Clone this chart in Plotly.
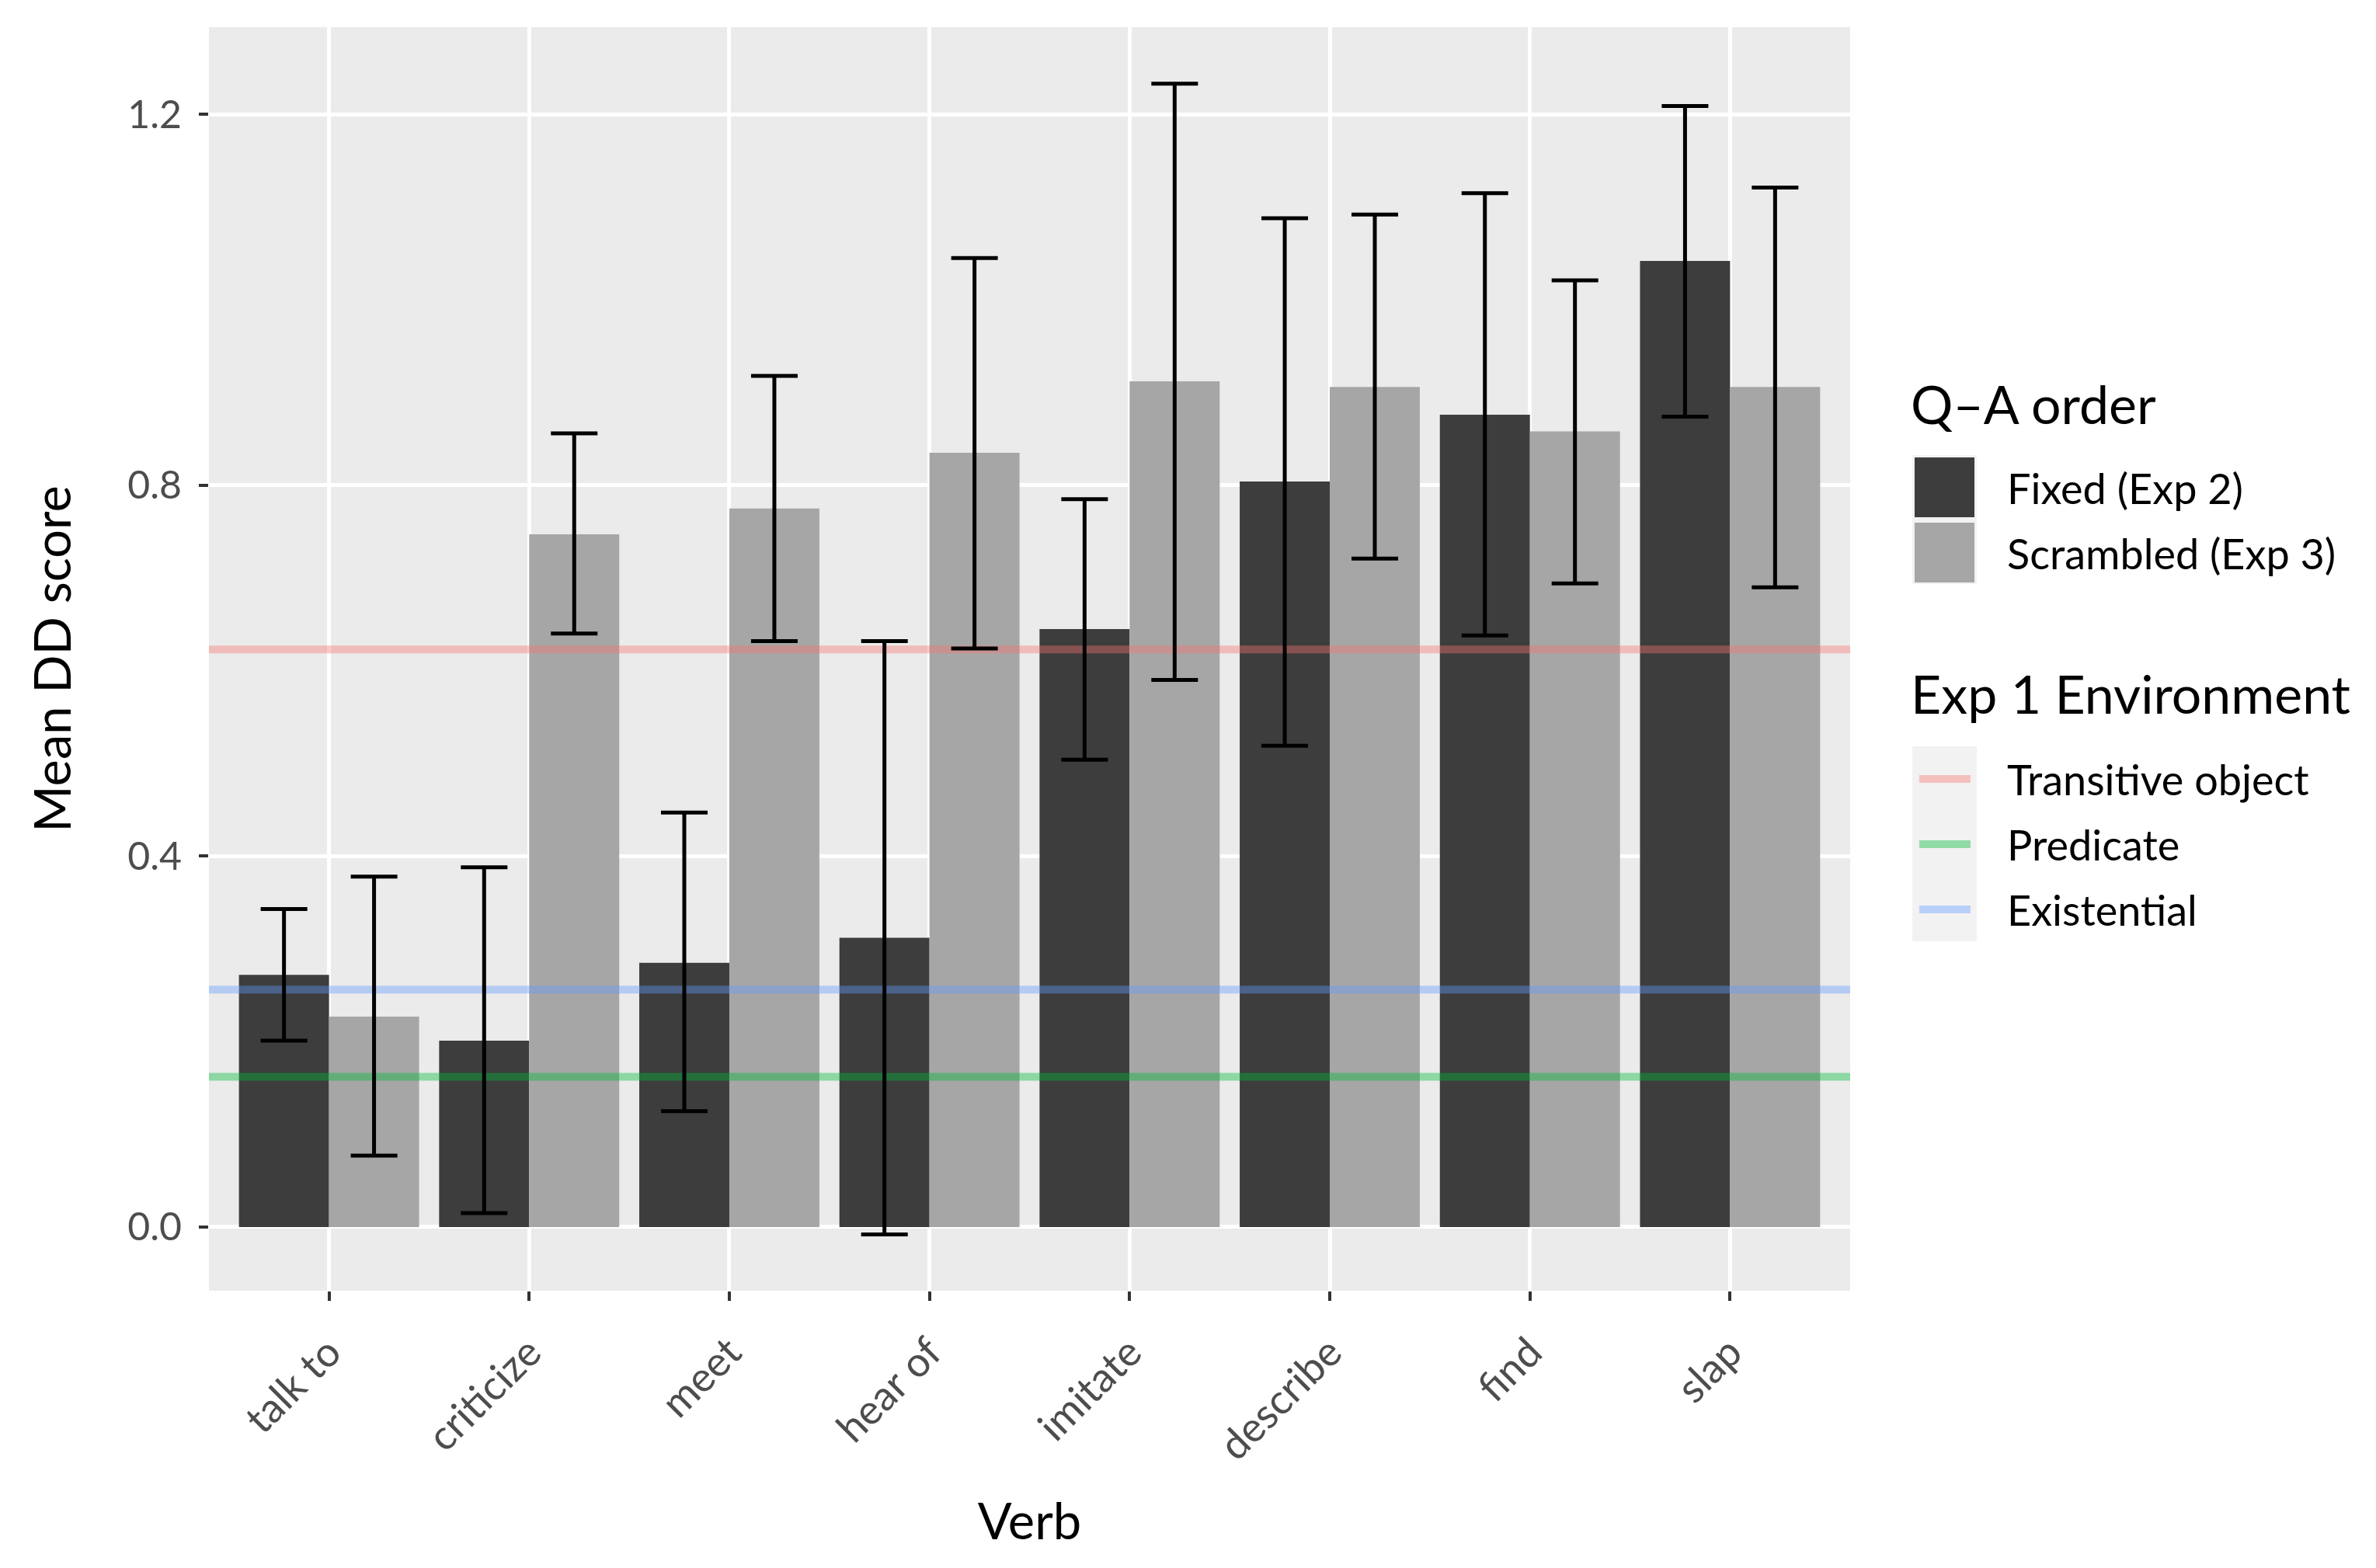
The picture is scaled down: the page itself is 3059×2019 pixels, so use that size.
import plotly.graph_objects as go

# ---------------- data ----------------
verbs = ["talk to", "criticize", "meet", "hear of", "imitate", "describe", "find", "slap"]

fixed_mean  = [0.272, 0.201, 0.285, 0.312, 0.645, 0.804, 0.876, 1.042]
fixed_upper = [0.343, 0.388, 0.447, 0.632, 0.785, 1.088, 1.115, 1.209]
fixed_lower = [0.201, 0.015, 0.125, -0.008, 0.504, 0.519, 0.638, 0.874]

scr_mean  = [0.227, 0.747, 0.775, 0.835, 0.912, 0.906, 0.858, 0.906]
scr_upper = [0.378, 0.856, 0.918, 1.045, 1.233, 1.092, 1.021, 1.121]
scr_lower = [0.077, 0.640, 0.632, 0.624, 0.590, 0.721, 0.694, 0.690]

env_names  = ["Transitive object", "Predicate", "Existential"]
env_values = [0.623, 0.162, 0.256]

y_ticks = [0.0, 0.4, 0.8, 1.2]
y_ticktext = ["0.0", "0.4", "0.8", "1.2"]

# ---------------- styling ----------------
OFF = 8                      # page body margin
W, H = 3059 - OFF, 2019 - OFF
L, T = 269 - OFF, 35 - OFF
R, B = 677, 357
PW, PH = W - L - R, H - T - B
FONT = "Lato"
C_FIXED = "#3D3D3D"
C_SCR = "#A6A6A6"
env_colors = ["rgba(248,118,109,0.4)", "rgba(0,186,56,0.4)", "rgba(97,156,255,0.4)"]
TICK_SIZE = 50
XTICK_SIZE = 53
TITLE_SIZE = 65
LEG_TITLE_SIZE = 68
LEG_SIZE = 54

idx = list(range(len(verbs)))
bargap = 0.1
bar_w = (1 - bargap) / 2
xr = [-0.6, len(verbs) - 1 + 0.6]

fig = go.Figure()

fig.add_trace(go.Bar(x=idx, y=fixed_mean, name="Fixed (Exp 2)",
                     marker=dict(color=C_FIXED, line=dict(width=0)), showlegend=False))
fig.add_trace(go.Bar(x=idx, y=scr_mean, name="Scrambled (Exp 3)",
                     marker=dict(color=C_SCR, line=dict(width=0)), showlegend=False))

for name, v, c in zip(env_names, env_values, env_colors):
    fig.add_trace(go.Scatter(x=xr, y=[v, v], mode="lines", name=name,
                             line=dict(color=c, width=10), showlegend=False,
                             hoverinfo="skip", cliponaxis=True))

def add_err(xs, mean, up, lo):
    fig.add_trace(go.Scatter(
        x=xs, y=mean, mode="markers",
        marker=dict(size=1, opacity=0), showlegend=False,
        error_y=dict(type="data", symmetric=False,
                     array=[u - m for u, m in zip(up, mean)],
                     arrayminus=[m - l for m, l in zip(mean, lo)],
                     color="black", thickness=5, width=30)))

add_err([i - bar_w / 2 for i in idx], fixed_mean, fixed_upper, fixed_lower)
add_err([i + bar_w / 2 for i in idx], scr_mean, scr_upper, scr_lower)

# ---------------- manual legends (page pixel coords) ----------------
def px(x):
    return (x - OFF - L) / PW

def py(y):
    return 1 - (y - OFF - T) / PH

shapes = []
annotations = []

def rect(x0, y0, x1, y1, color):
    shapes.append(dict(type="rect", xref="paper", yref="paper",
                       x0=px(x0), x1=px(x1), y0=py(y1), y1=py(y0),
                       fillcolor=color, line=dict(width=0), layer="above"))

def text(x, y, s, size, color="black"):
    annotations.append(dict(xref="paper", yref="paper", x=px(x), y=py(y), text=s,
                            showarrow=False, xanchor="left", yanchor="middle",
                            font=dict(family=FONT, size=size, color=color)))

# Q-A order legend
text(2458, 519, "Q\u2013A order", LEG_TITLE_SIZE)
rect(2462, 586, 2545, 752, "#F2F2F2")
rect(2465, 589, 2542, 666, C_FIXED)
rect(2465, 673, 2542, 750, C_SCR)
text(2582, 628, "Fixed (Exp 2)", LEG_SIZE)
text(2582, 712, "Scrambled (Exp 3)", LEG_SIZE)

# Exp 1 Environment legend
text(2458, 893, "Exp 1 Environment", LEG_TITLE_SIZE)
rect(2462, 961, 2545, 1212, "#F2F2F2")
for k, (name, c) in enumerate(zip(env_names, env_colors)):
    yc = 1003 + 84 * k
    shapes.append(dict(type="line", xref="paper", yref="paper",
                       x0=px(2471), x1=px(2537), y0=py(yc), y1=py(yc),
                       line=dict(color=c, width=10), layer="above"))
    text(2582, yc, name, LEG_SIZE)

fig.update_layout(
    width=W, height=H,
    margin=dict(l=L, r=R, t=T, b=B, autoexpand=False),
    paper_bgcolor="white", plot_bgcolor="#EBEBEB",
    barmode="group", bargap=bargap, bargroupgap=0,
    showlegend=False,
    font=dict(family=FONT, color="black"),
    shapes=shapes, annotations=annotations,
    xaxis=dict(range=xr, tickmode="array", tickvals=idx, ticktext=verbs,
               tickangle=-45, ticks="outside", ticklen=12, tickwidth=4,
               tickcolor="#333333", tickfont=dict(family=FONT, size=XTICK_SIZE, color="#4D4D4D"),
               ticklabelstandoff=14,
               showgrid=True, gridcolor="white", gridwidth=5, zeroline=False,
               showline=False, automargin=False,
               title=dict(text="Verb", font=dict(family=FONT, size=TITLE_SIZE, color="black"),
                          standoff=46)),
    yaxis=dict(range=[-0.0687, 1.294], tickmode="array", tickvals=y_ticks, ticktext=y_ticktext,
               ticks="outside", ticklen=12, tickwidth=4, tickcolor="#333333",
               tickfont=dict(family=FONT, size=TICK_SIZE, color="#4D4D4D"),
               ticklabelstandoff=12,
               showgrid=True, gridcolor="white", gridwidth=5, zeroline=False,
               showline=False, automargin=False,
               title=dict(text="Mean DD score", font=dict(family=FONT, size=TITLE_SIZE, color="black"),
                          standoff=51)),
)

fig.write_html("out.html")
